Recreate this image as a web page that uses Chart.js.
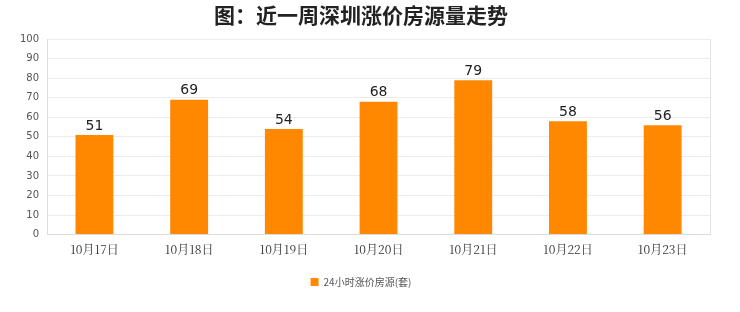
<!DOCTYPE html>
<html><head><meta charset="utf-8">
<script src="https://cdn.jsdelivr.net/npm/chart.js@4/dist/chart.umd.min.js"></script>
<style>html,body{margin:0;padding:0;background:#fff;}#wrap{width:740px;height:312px;}</style>
</head><body><div id="wrap"><canvas id="c" width="740" height="312"></canvas></div>
<script>
const categories = ['10月17日','10月18日','10月19日','10月20日','10月21日','10月22日','10月23日'];
const seriesName = '24小时涨价房源(套)';
const values = [51, 69, 54, 68, 79, 58, 56];
const yTicks = [0,10,20,30,40,50,60,70,80,90,100];
const titleText = '图：近一周深圳涨价房源量走势';

const frame = {
  id: 'frame',
  afterDatasetsDraw(chart) {
    const {ctx, chartArea: a} = chart;
    ctx.save();
    ctx.strokeStyle = '#e3e3e3'; ctx.lineWidth = 1;
    ctx.beginPath();
    ctx.moveTo(Math.round(a.right)+0.5, a.top); ctx.lineTo(Math.round(a.right)+0.5, a.bottom);
    ctx.stroke();
    const meta = chart.getDatasetMeta(0);
    ctx.fillStyle = '#222'; ctx.font = '14px "DejaVu Sans", sans-serif';
    ctx.textAlign = 'center'; ctx.textBaseline = 'bottom';
    meta.data.forEach((b, i) => ctx.fillText(String(values[i]), b.x, b.y - 2));
    ctx.restore();
  }
};

new Chart(document.getElementById('c'), {
  type: 'bar',
  data: { labels: categories, datasets: [{ label: seriesName, data: values, backgroundColor: '#ff8800', barPercentage: 0.4, categoryPercentage: 1.0 }] },
  options: {
    responsive: false, animation: false,
    layout: { padding: { left: 12, right: 30, top: 0, bottom: 15 } },
    plugins: {
      title: { display: true, text: titleText, color: '#222', font: { size: 21, weight: 'bold', family: '"Noto Sans CJK SC", sans-serif' }, padding: { top: 2, bottom: 12 } },
      legend: { position: 'bottom', labels: { boxWidth: 8, boxHeight: 8, color: '#555', font: { size: 10, family: '"Noto Sans CJK SC", serif' }, padding: 20 } },
      tooltip: { enabled: false }
    },
    scales: {
      x: { grid: { display: false }, border: { color: '#dcdcdc' }, ticks: { color: '#333', font: { size: 12, family: '"Noto Serif CJK SC", "Noto Sans CJK SC", serif' }, padding: 0 } },
      y: { min: 0, max: 100, afterBuildTicks(ax) { ax.ticks = yTicks.map(v => ({ value: v })); },
           grid: { color: '#ececec', drawTicks: false }, border: { color: '#dcdcdc' },
           ticks: { color: '#555', font: { size: 10, family: '"DejaVu Sans", sans-serif' }, padding: 8 } }
    }
  },
  plugins: [frame]
});
</script></body></html>
